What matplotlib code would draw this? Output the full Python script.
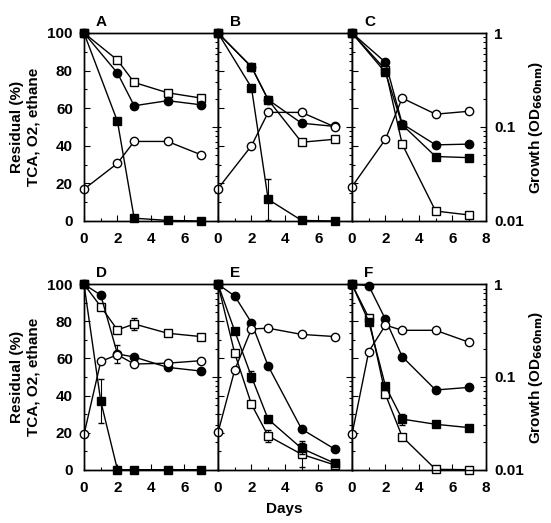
import numpy as np
import matplotlib
matplotlib.use("Agg")
import matplotlib.pyplot as plt
from matplotlib.ticker import MultipleLocator, LogLocator, NullFormatter

plt.rcParams['font.family'] = ['Liberation Sans', 'DejaVu Sans']
plt.rcParams['font.weight'] = 'bold'

# days sampled in each panel
days_A = [0, 2, 3, 5, 7]
days_B = [0, 2, 3, 5, 7]
days_C = [0, 2, 3, 5, 7]
days_D = [0, 1, 2, 3, 5, 7]
days_E = [0, 1, 2, 3, 5, 7]
days_F = [0, 1, 2, 3, 5, 7]

# residual (%) - filled circles
circ_A = [100, 78.7, 61.3, 64.0, 61.8]
circ_B = [100, 82, 64.5, 52, 50.3]
circ_C = [100, 84.4, 51.7, 40.5, 40.9]
circ_D = [100, 94.2, 62.4, 60.8, 55.2, 53.2]
circ_E = [100, 93.7, 79.3, 55.9, 21.9, 11.0]
circ_F = [100, 99.3, 81.1, 61.0, 43.0, 44.4]

# residual (%) - open squares
osq_A = [100, 85.6, 73.7, 68.2, 65.4]
osq_B = [100, 82, 64.5, 41.9, 43.5]
osq_C = [100, 80.5, 40.9, 5.3, 3.2]
osq_D = [100, 88.0, 75.4, 78.6, 73.6, 71.8]
osq_E = [100, 62.8, 35.3, 18.2, 8.3, 2.5]
osq_F = [100, 82.0, 40.6, 17.8, 0.2, 0.0]

# residual (%) - filled squares
fsq_A = [100, 53, 1.5, 0.3, 0]
fsq_B = [100, 71, 11.5, 0.3, 0]
fsq_C = [100, 79, 51.2, 34.3, 33.7]
fsq_D = [100, 37, 0, 0, 0, 0]
fsq_E = [100, 74.8, 50.2, 27.2, 11.5, 3.4]
fsq_F = [100, 79.9, 45.1, 27.3, 24.5, 22.7]

# error bars
fsq_err_B = [0, 0, 11, 0, 0]
fsq_err_D = [0, 12, 0, 0, 0, 0]
fsq_err_E = [0, 0, 3, 0, 3, 0]
fsq_err_F = [0, 0, 0, 3, 0, 0]
circ_err_D = [0, 0, 5, 0, 0, 0]
osq_err_D = [0, 0, 0, 3, 0, 0]
osq_err_E = [0, 0, 0, 3, 7, 0]

# growth OD660 - open circles (log axis)
od_A = [0.0218, 0.0411, 0.0702, 0.0702, 0.0506]
od_B = [0.0221, 0.0631, 0.143, 0.143, 0.100]
od_C = [0.0232, 0.0741, 0.203, 0.137, 0.147]
od_D = [0.024, 0.147, 0.174, 0.138, 0.141, 0.150]
od_E = [0.0252, 0.119, 0.330, 0.336, 0.288, 0.273]
od_F = [0.024, 0.188, 0.363, 0.319, 0.319, 0.237]

panels = [
    ('A', days_A, circ_A, osq_A, fsq_A, od_A, None, None, None),
    ('B', days_B, circ_B, osq_B, fsq_B, od_B, None, None, fsq_err_B),
    ('C', days_C, circ_C, osq_C, fsq_C, od_C, None, None, None),
    ('D', days_D, circ_D, osq_D, fsq_D, od_D, circ_err_D, osq_err_D, fsq_err_D),
    ('E', days_E, circ_E, osq_E, fsq_E, od_E, None, osq_err_E, fsq_err_E),
    ('F', days_F, circ_F, osq_F, fsq_F, od_F, None, None, fsq_err_F),
]

fig = plt.figure(figsize=(5.51, 5.23), dpi=100)

W = 551.0
H = 523.0
col_left = [84, 218, 352]
pw = 133.8
rows = [(33, 221), (284.3, 469.7)]

fs = 11
ms = 6
lw = 1.0

for i, (lab, d, c, osq, fsq, od, cerr, oerr, ferr) in enumerate(panels):
    r, col = divmod(i, 3)
    top, bot = rows[r]
    ax = fig.add_axes([col_left[col] / W, 1 - bot / H, pw / W, (bot - top) / H])
    ax2 = ax.twinx()

    style = dict(color='black', lw=lw, clip_on=False, ms=ms, mec='black',
                 capsize=2, elinewidth=0.8)
    ax.errorbar(d, osq, yerr=oerr, marker='s', mfc='white', zorder=3, **style)
    ax.errorbar(d, c, yerr=cerr, marker='o', mfc='black', zorder=4, **style)
    ax.errorbar(d, fsq, yerr=ferr, marker='s', mfc='black', zorder=5, **style)
    ax2.plot(d, od, marker='o', mfc='white', mec='black', color='black',
             lw=lw, ms=ms, clip_on=False)

    ax.set_xlim(0, 8)
    ax.set_ylim(0, 100)
    ax2.set_yscale('log')
    ax2.set_ylim(0.01, 1)

    ax.xaxis.set_major_locator(MultipleLocator(2))
    ax.xaxis.set_minor_locator(MultipleLocator(1))
    ax.yaxis.set_major_locator(MultipleLocator(20))
    ax.yaxis.set_minor_locator(MultipleLocator(10))
    ax2.yaxis.set_major_locator(LogLocator(base=10))
    ax2.yaxis.set_minor_locator(LogLocator(base=10, subs=np.arange(2, 10)))
    ax2.yaxis.set_minor_formatter(NullFormatter())

    for a in (ax, ax2):
        a.tick_params(which='major', direction='in', length=4, width=0.8,
                      labelsize=fs)
        a.tick_params(which='minor', direction='in', length=2, width=0.8)
        for s in a.spines.values():
            s.set_linewidth(1.0)
    ax.tick_params(axis='y', which='major', pad=8)
    ax.tick_params(axis='x', which='major', pad=8)
    ax2.tick_params(axis='y', which='major', pad=6)

    if col == 2:
        ax.set_xticks([0, 2, 4, 6, 8])
        ax2.set_yticks([0.01, 0.1, 1])
        ax2.set_yticklabels(['0.01', '0.1', '1'], fontweight='bold')
        ax2.set_ylabel('Growth (OD$_{\\mathbf{660nm}}$)', fontsize=fs,
                       fontweight='bold', labelpad=2)
    else:
        ax.set_xticks([0, 2, 4, 6])
        ax2.tick_params(which='both', labelright=False)

    if col == 0:
        ax.set_ylabel('Residual (%)\nTCA, O2, ethane', fontsize=fs,
                      fontweight='bold', labelpad=5)
    else:
        ax.tick_params(labelleft=False)

    for t in ax.get_xticklabels() + ax.get_yticklabels() + ax2.get_yticklabels():
        t.set_fontweight('bold')

    ax.set_title(lab, loc='left', fontsize=fs, fontweight='bold', pad=5,
                 x=0.09)

fig.text(284 / W, 1 - 509 / H, 'Days', fontsize=fs, fontweight='bold',
         ha='center', va='center')

fig.savefig('out.png', dpi=100)
